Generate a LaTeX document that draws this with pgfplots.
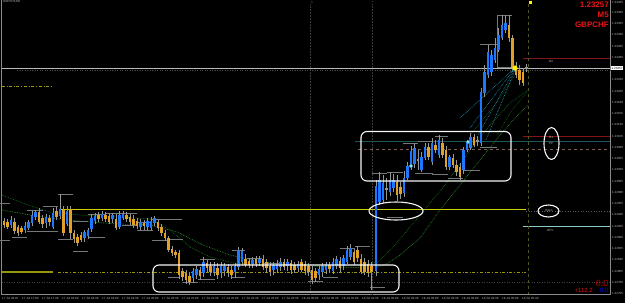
\documentclass[border=0pt]{standalone}
\usepackage{pgfplots}
\pgfplotsset{compat=1.18}
\usepackage{pgfplotstable}
\usepackage{fontspec}
\setmainfont{Liberation Sans}
\definecolor{bull}{RGB}{30,120,255}
\definecolor{bear}{RGB}{225,160,40}
\definecolor{wick}{RGB}{150,150,150}
\definecolor{fract}{RGB}{115,120,125}
\definecolor{maone}{RGB}{25,110,25}
\definecolor{matwo}{RGB}{45,145,45}
\definecolor{fan}{RGB}{40,170,205}
\definecolor{yel}{RGB}{205,205,0}
\definecolor{oli}{RGB}{150,150,10}
\definecolor{rline}{RGB}{135,20,20}
\definecolor{tealline}{RGB}{30,85,85}
\definecolor{ppc}{RGB}{125,95,85}
\definecolor{dpv}{RGB}{140,200,200}
\definecolor{lbl}{RGB}{185,185,185}
\definecolor{mtred}{RGB}{235,20,20}
\definecolor{frame}{RGB}{140,140,140}

% pixel coordinates, y measured downward
\pgfplotstableread{
x h l t b
11 216 228 220 225
25 222 233 226 230
28.5 220 230 222 228
32 211 226 215 223
35.5 210 220 212 217
46 214 228 217 223
53 208 229 213 227
60 194 219 209 216
67 206 226 211 224
84.5 230 242 232 238
88 228 239 230 236
91.5 214 232 218 229
95 213 224 216 221
102 211 221 214 218
112.5 213 223 215 219
119.5 211 229 215 227
123 211 220 214 218
140.5 219 230 222 227
147.5 218 230 221 227
151 217 230 221 228
154.5 216 226 218 223
193 268 283 271 278
196.5 266 279 269 275
203.5 257 277 262 273
214 262 276 266 272
221 262 278 266 273
224.5 263 276 266 271
235 263 278 266 272
238.5 247 270 250 267
242 248 265 251 262
252.5 257 268 260 264
259.5 256 266 259 263
273.5 262 275 265 270
277 260 273 264 269
280.5 258 271 262 267
287.5 259 271 262 266
298 261 272 264 268
319 266 280 269 275
322.5 263 277 266 272
326 262 274 264 270
333 258 274 262 271
336.5 256 269 259 266
343.5 255 270 258 266
347 246 264 250 262
350.5 244 260 248 257
376 180 276 186 271
379.5 172 205 180 202
383 175 203 183 200
390 172 196 180 192
393.5 174 192 180 188
404 171 197 178 193
407.5 162 180 166 178
411 146 170 151 167
414.5 143 168 148 164
421.5 152 172 157 170
425 143 160 147 158
432 138 165 143 162
439 135 158 140 155
449.5 155 170 157 167
463.5 147 174 150 170
467 140 152 142 150
470.5 133 150 137 148
481 88 146 92 143
484.5 65 97 72 93
488 45 78 52 75
491.5 50 76 55 72
495 38 63 48 60
498.5 28 52 35 50
502 15 40 25 38
505.5 15 33 23 30
}\upbars

\pgfplotstableread{
x h l t b
4 218 228 221 225
7.5 219 229 222 227
14.5 218 234 222 231
18 225 236 227 233
21.5 226 234 228 232
39 208 224 212 222
42.5 215 228 218 224
49.5 215 226 218 222
56.5 207 220 211 217
63.5 206 236 210 233
70.5 206 239 209 233
74 230 243 233 239
77.5 234 246 237 243
81 232 242 235 240
98.5 212 222 215 219
105.5 212 222 215 219
109 213 224 216 222
116 214 230 219 228
126.5 212 222 215 219
130 214 225 217 222
133.5 215 228 219 225
137 218 229 221 226
144 220 230 223 226
158 219 231 222 228
161.5 224 236 227 233
165 230 241 233 238
168.5 236 252 238 250
172 246 256 249 253
175.5 250 258 252 255
179 250 279 253 275
182.5 268 281 271 277
186 270 284 273 280
189.5 272 285 276 282
200 267 280 270 276
207 260 272 263 268
210.5 262 276 266 272
217.5 263 279 268 275
228 264 277 267 273
231.5 266 279 270 275
245.5 254 267 259 265
249 258 268 261 265
256 256 267 259 264
263 255 270 259 267
266.5 259 272 262 268
270 262 276 266 272
284 259 270 262 267
291 260 274 263 270
294.5 262 273 265 270
301.5 259 272 262 270
305 261 275 264 271
308.5 263 276 266 272
312 266 284 270 280
315.5 268 282 271 278
329.5 262 273 265 269
340 257 272 261 268
354 249 265 252 262
357.5 246 262 250 258
361 254 274 259 272
364.5 258 275 262 272
368 260 277 264 273
371.5 262 290 266 272
397 175 201 182 195
400.5 182 199 187 194
428.5 143 160 147 157
435.5 140 153 145 150
442.5 138 158 143 155
446 146 170 150 167
453 154 168 158 165
456.5 160 176 165 172
460 163 180 167 177
474 134 147 137 145
509 15 42 25 38
512.5 35 70 38 68
516 62 78 67 75
519.5 65 85 70 80
523 68 86 72 83
}\dnbars

\pgfplotstableread{
x h l t b
386.5 178 200 188 190
418 150 170 159 161
477.5 136 146 140 142
526.5 64 72 67 69
}\djbars

% horizontal level segments: a (start x), b (end x), y
\pgfplotstableread{
a b y
0 10 203
0 10 240
12 27 237
27 43 210
27 58 231
43 58 206
58 73 194
58 73 239
73 88 221
73 88 251
88 105 214
88 105 237
105 137 213
122 137 225
137 152 222
137 153 230
152 182 219
152 167 240
168 180 277
170 183 239
183 198 282
200 215 259
198 215 279
232 245 250
232 245 277
247 262 258
262 280 263
308 323 281
323 338 277
340 355 248
355 370 246
370 385 287
372 387 173
387 403 172
387 403 217
403 418 143
418 433 141
435 448 136
415 433 173
432 448 174
448 463 178
463 480 170
480 497 147
480 497 44
497 512 15
497 512 67
}\levels

\begin{document}
\begin{tikzpicture}
\begin{axis}[scale only axis, width=625pt, height=303pt,
  xmin=0, xmax=625, ymin=0, ymax=303, y dir=reverse, hide axis]
\fill[black] (axis cs:0,0) rectangle (axis cs:625,303);

% frame
\addplot[frame, line width=0.7pt] coordinates {(1.5,0) (1.5,294.5) (610,294.5) (610,0)};

% background levels
\addplot[lbl, line width=0.8pt] coordinates {(1.5,68) (610,68)};
\addplot[gray!60!black, dotted, line width=0.5pt] coordinates {(17,70.5) (610,70.5)};
\addplot[oli, dash dot, line width=0.8pt] coordinates {(1.5,86) (53,86)};
\addplot[yel, line width=1pt] coordinates {(60,209) (526,209)};
\addplot[oli, line width=1.6pt] coordinates {(1.5,272) (53,272)};
\addplot[oli, dash dot, line width=0.8pt] coordinates {(58,272) (526,272)};
\addplot[gray!50!black, dotted, line width=0.5pt] coordinates {(1.5,282) (610,282)};
\addplot[rline, line width=0.8pt] coordinates {(523,58) (610,58)};
\addplot[rline, line width=0.8pt] coordinates {(523,136) (610,136)};
\addplot[tealline, line width=0.7pt] coordinates {(355,141) (610,141)};
\addplot[ppc, dashed, line width=0.8pt] coordinates {(358,149) (610,149)};
\addplot[gray!70!black, dotted, line width=0.6pt] coordinates {(526,211) (610,211)};
\addplot[dpv, line width=0.8pt] coordinates {(523,226.5) (610,226.5)};

% vertical separators
\addplot[gray!45!black, densely dotted, line width=0.5pt] coordinates {(310,4) (310,294)};
\addplot[gray!45!black, densely dotted, line width=0.5pt] coordinates {(372,4) (372,294)};
\addplot[oli!60!gray!60!black, dashed, line width=0.5pt] coordinates {(528,4) (528,294)};

% moving averages
\addplot[maone, densely dotted, line width=0.7pt] coordinates {(2,195) (25,204) (50,212) (80,215) (120,217) (150,219) (170,230) (190,247) (210,257) (233,263) (260,265) (300,265) (340,265) (365,265) (378,262) (395,245) (420,215) (445,185) (470,150) (490,125) (510,103) (528,90)};
\addplot[matwo, densely dotted, line width=0.7pt] coordinates {(2,210) (30,215) (60,219) (90,222) (120,224) (150,225) (177,232) (203,245) (230,255) (263,262) (300,266) (340,267) (370,268) (385,265) (400,255) (420,238) (440,210) (460,185) (480,160) (500,135) (515,118) (528,105)};
\addplot[maone, densely dotted, line width=0.6pt] coordinates {(470,135) (495,105) (516,74)};
\addplot[maone, densely dotted, line width=0.6pt] coordinates {(497,135) (512,110) (527,92)};
\addplot[fan, densely dotted, line width=0.6pt] coordinates {(460,118) (515,68)};
\addplot[fan, densely dotted, line width=0.6pt] coordinates {(470,128) (515,68)};
\addplot[fan, densely dotted, line width=0.6pt] coordinates {(478,135) (515,69)};
\addplot[fan, densely dotted, line width=0.6pt] coordinates {(486,140) (515,70)};

% level steps
\addplot[draw=none, mark=none, error bars/.cd, x dir=plus, x explicit, error mark=none,
  error bar style={draw=fract, line width=0.6pt}]
  table[x=a, y=y, x error plus expr={\thisrow{b}-\thisrow{a}}] {\levels};
\addplot[fract, line width=0.6pt] coordinates {(497,15) (497,67)};

% wicks
\addplot[draw=none, mark=none, error bars/.cd, y dir=plus, y explicit, error mark=none,
  error bar style={draw=wick, line width=0.6pt}]
  table[x=x, y=h, y error plus expr={\thisrow{l}-\thisrow{h}}] {\upbars};
\addplot[draw=none, mark=none, error bars/.cd, y dir=plus, y explicit, error mark=none,
  error bar style={draw=wick, line width=0.6pt}]
  table[x=x, y=h, y error plus expr={\thisrow{l}-\thisrow{h}}] {\dnbars};
\addplot[draw=none, mark=none, error bars/.cd, y dir=plus, y explicit, error mark=none,
  error bar style={draw=wick, line width=0.6pt}]
  table[x=x, y=h, y error plus expr={\thisrow{l}-\thisrow{h}}] {\djbars};
% bodies
\addplot[draw=none, mark=none, error bars/.cd, y dir=plus, y explicit, error mark=none,
  error bar style={draw=bull, line width=2.4pt}]
  table[x=x, y=t, y error plus expr={\thisrow{b}-\thisrow{t}}] {\upbars};
\addplot[draw=none, mark=none, error bars/.cd, y dir=plus, y explicit, error mark=none,
  error bar style={draw=bear, line width=2.4pt}]
  table[x=x, y=t, y error plus expr={\thisrow{b}-\thisrow{t}}] {\dnbars};
\addplot[draw=none, mark=none, error bars/.cd, y dir=plus, y explicit, error mark=none,
  error bar style={draw=wick, line width=2.4pt}]
  table[x=x, y=t, y error plus expr={\thisrow{b}-\thisrow{t}}] {\djbars};

% markers
\addplot[only marks, mark=*, mark size=1.6pt, mark options={fill=white, draw=fan, line width=0.7pt}] coordinates {(411,166) (468,142)};
\addplot[only marks, mark=*, mark size=2.3pt, color=yellow] coordinates {(515,68)};
\addplot[only marks, mark=square*, mark size=1pt, color=yellow] coordinates {(530,2.5)};

% annotations
\draw[white!92!gray, line width=1.1pt, rounded corners=6pt] (axis cs:153,265) rectangle (axis cs:399,292);
\draw[white!92!gray, line width=1.1pt, rounded corners=6pt] (axis cs:361,131.5) rectangle (axis cs:511,181);
\draw[white!92!gray, line width=1.1pt] (axis cs:396,211) ellipse [x radius=27pt, y radius=9pt];
\draw[white!92!gray, line width=1.1pt] (axis cs:551.5,143.5) ellipse [x radius=7.5pt, y radius=16pt];
\draw[white!92!gray, line width=1.1pt] (axis cs:548.5,211) ellipse [x radius=10.5pt, y radius=6pt];

% level labels
\node[lbl, anchor=west, inner sep=0pt, font=\fontsize{3}{3.5}\selectfont] at (axis cs:549,61.5) {R2};
\node[lbl, anchor=west, inner sep=0pt, font=\fontsize{3}{3.5}\selectfont] at (axis cs:549,137.5) {R1};
\node[lbl, anchor=west, inner sep=0pt, font=\fontsize{3}{3.5}\selectfont] at (axis cs:549,143) {PP};
\node[lbl, anchor=west, inner sep=0pt, font=\fontsize{3}{3.5}\selectfont] at (axis cs:545,211) {Open};
\node[lbl, anchor=west, inner sep=0pt, font=\fontsize{3}{3.5}\selectfont] at (axis cs:547,230) {DPV};
\node[lbl, anchor=west, inner sep=0pt, font=\fontsize{3}{3.5}\selectfont] at (axis cs:3,1.8) {GBPCHF,M5};
\node[lbl, inner sep=0pt, font=\fontsize{3}{3.5}\selectfont] at (axis cs:312,2.5) {>};
\node[lbl, inner sep=0pt, font=\fontsize{3}{3.5}\selectfont] at (axis cs:373,2.5) {*};

% red info text
\node[mtred, anchor=base east, inner sep=0pt, font=\fontsize{8}{9}\selectfont\bfseries] at (axis cs:609,7.5) {1.23257};
\node[mtred, anchor=base east, inner sep=0pt, font=\fontsize{8}{9}\selectfont\bfseries] at (axis cs:609,17.7) {M5};
\node[mtred, anchor=base east, inner sep=0pt, font=\fontsize{8}{9}\selectfont\bfseries] at (axis cs:609,27.7) {GBPCHF};
\node[red!70!black, anchor=base east, inner sep=0pt, font=\fontsize{9}{9}\selectfont] at (axis cs:608.5,286) {0.0};
\node[mtred, anchor=base east, inner sep=0pt, font=\fontsize{6}{6}\selectfont] at (axis cs:593,292.5) {+112.2};
\node[blue, anchor=base east, inner sep=0pt, font=\fontsize{6}{6}\selectfont] at (axis cs:608.5,292.5) {0.0};

% price scale
\node[lbl, anchor=west, inner sep=0pt, font=\fontsize{3}{3.5}\selectfont] at (axis cs:612,2.5) {1.23405};
\node[lbl, anchor=west, inner sep=0pt, font=\fontsize{3}{3.5}\selectfont] at (axis cs:612,12.25) {1.23380};
\node[lbl, anchor=west, inner sep=0pt, font=\fontsize{3}{3.5}\selectfont] at (axis cs:612,23.5) {1.23355};
\node[lbl, anchor=west, inner sep=0pt, font=\fontsize{3}{3.5}\selectfont] at (axis cs:612,34.75) {1.23330};
\node[lbl, anchor=west, inner sep=0pt, font=\fontsize{3}{3.5}\selectfont] at (axis cs:612,46) {1.23305};
\node[lbl, anchor=west, inner sep=0pt, font=\fontsize{3}{3.5}\selectfont] at (axis cs:612,57.25) {1.23280};
\node[fill=white, text=black, anchor=west, inner sep=0.5pt, font=\fontsize{3}{3.5}\selectfont] at (axis cs:611,68) {1.23257};
\node[lbl, anchor=west, inner sep=0pt, font=\fontsize{3}{3.5}\selectfont] at (axis cs:612,79.75) {1.23230};
\node[lbl, anchor=west, inner sep=0pt, font=\fontsize{3}{3.5}\selectfont] at (axis cs:612,91) {1.23205};
\node[lbl, anchor=west, inner sep=0pt, font=\fontsize{3}{3.5}\selectfont] at (axis cs:612,102.25) {1.23180};
\node[lbl, anchor=west, inner sep=0pt, font=\fontsize{3}{3.5}\selectfont] at (axis cs:612,113.5) {1.23155};
\node[lbl, anchor=west, inner sep=0pt, font=\fontsize{3}{3.5}\selectfont] at (axis cs:612,124.75) {1.23130};
\node[lbl, anchor=west, inner sep=0pt, font=\fontsize{3}{3.5}\selectfont] at (axis cs:612,136) {1.23105};
\node[lbl, anchor=west, inner sep=0pt, font=\fontsize{3}{3.5}\selectfont] at (axis cs:612,147.25) {1.23080};
\node[lbl, anchor=west, inner sep=0pt, font=\fontsize{3}{3.5}\selectfont] at (axis cs:612,158.5) {1.23055};
\node[lbl, anchor=west, inner sep=0pt, font=\fontsize{3}{3.5}\selectfont] at (axis cs:612,169.75) {1.23030};
\node[lbl, anchor=west, inner sep=0pt, font=\fontsize{3}{3.5}\selectfont] at (axis cs:612,181) {1.23005};
\node[lbl, anchor=west, inner sep=0pt, font=\fontsize{3}{3.5}\selectfont] at (axis cs:612,192.25) {1.22980};
\node[lbl, anchor=west, inner sep=0pt, font=\fontsize{3}{3.5}\selectfont] at (axis cs:612,203.5) {1.22955};
\node[lbl, anchor=west, inner sep=0pt, font=\fontsize{3}{3.5}\selectfont] at (axis cs:612,214.75) {1.22930};
\node[lbl, anchor=west, inner sep=0pt, font=\fontsize{3}{3.5}\selectfont] at (axis cs:612,226) {1.22905};
\node[lbl, anchor=west, inner sep=0pt, font=\fontsize{3}{3.5}\selectfont] at (axis cs:612,237.25) {1.22880};
\node[lbl, anchor=west, inner sep=0pt, font=\fontsize{3}{3.5}\selectfont] at (axis cs:612,248.5) {1.22855};
\node[lbl, anchor=west, inner sep=0pt, font=\fontsize{3}{3.5}\selectfont] at (axis cs:612,259.75) {1.22830};
\node[lbl, anchor=west, inner sep=0pt, font=\fontsize{3}{3.5}\selectfont] at (axis cs:612,271) {1.22805};
\node[lbl, anchor=west, inner sep=0pt, font=\fontsize{3}{3.5}\selectfont] at (axis cs:612,282.25) {1.22780};
\node[lbl, anchor=west, inner sep=0pt, font=\fontsize{3}{3.5}\selectfont] at (axis cs:612,293) {1.22755};

% time scale
\node[lbl, anchor=west, inner sep=0pt, font=\fontsize{3}{3.5}\selectfont] at (axis cs:2,298.5) {17 Jul 2019};
\node[lbl, anchor=west, inner sep=0pt, font=\fontsize{3}{3.5}\selectfont] at (axis cs:22,298.5) {17 Jul 17:00};
\node[lbl, anchor=west, inner sep=0pt, font=\fontsize{3}{3.5}\selectfont] at (axis cs:42,298.5) {17 Jul 17:30};
\node[lbl, anchor=west, inner sep=0pt, font=\fontsize{3}{3.5}\selectfont] at (axis cs:62,298.5) {17 Jul 18:00};
\node[lbl, anchor=west, inner sep=0pt, font=\fontsize{3}{3.5}\selectfont] at (axis cs:82,298.5) {17 Jul 18:30};
\node[lbl, anchor=west, inner sep=0pt, font=\fontsize{3}{3.5}\selectfont] at (axis cs:102,298.5) {17 Jul 19:00};
\node[lbl, anchor=west, inner sep=0pt, font=\fontsize{3}{3.5}\selectfont] at (axis cs:122,298.5) {17 Jul 19:30};
\node[lbl, anchor=west, inner sep=0pt, font=\fontsize{3}{3.5}\selectfont] at (axis cs:142,298.5) {17 Jul 20:00};
\node[lbl, anchor=west, inner sep=0pt, font=\fontsize{3}{3.5}\selectfont] at (axis cs:162,298.5) {17 Jul 20:30};
\node[lbl, anchor=west, inner sep=0pt, font=\fontsize{3}{3.5}\selectfont] at (axis cs:182,298.5) {17 Jul 21:00};
\node[lbl, anchor=west, inner sep=0pt, font=\fontsize{3}{3.5}\selectfont] at (axis cs:202,298.5) {17 Jul 21:30};
\node[lbl, anchor=west, inner sep=0pt, font=\fontsize{3}{3.5}\selectfont] at (axis cs:222,298.5) {17 Jul 22:00};
\node[lbl, anchor=west, inner sep=0pt, font=\fontsize{3}{3.5}\selectfont] at (axis cs:242,298.5) {17 Jul 22:30};
\node[lbl, anchor=west, inner sep=0pt, font=\fontsize{3}{3.5}\selectfont] at (axis cs:262,298.5) {17 Jul 23:00};
\node[lbl, anchor=west, inner sep=0pt, font=\fontsize{3}{3.5}\selectfont] at (axis cs:282,298.5) {17 Jul 23:30};
\node[lbl, anchor=west, inner sep=0pt, font=\fontsize{3}{3.5}\selectfont] at (axis cs:302,298.5) {18 Jul 00:00};
\node[lbl, anchor=west, inner sep=0pt, font=\fontsize{3}{3.5}\selectfont] at (axis cs:322,298.5) {18 Jul 00:30};
\node[lbl, anchor=west, inner sep=0pt, font=\fontsize{3}{3.5}\selectfont] at (axis cs:342,298.5) {18 Jul 01:00};
\node[lbl, anchor=west, inner sep=0pt, font=\fontsize{3}{3.5}\selectfont] at (axis cs:362,298.5) {18 Jul 01:30};
\node[lbl, anchor=west, inner sep=0pt, font=\fontsize{3}{3.5}\selectfont] at (axis cs:382,298.5) {18 Jul 02:00};
\node[lbl, anchor=west, inner sep=0pt, font=\fontsize{3}{3.5}\selectfont] at (axis cs:402,298.5) {18 Jul 02:30};
\node[lbl, anchor=west, inner sep=0pt, font=\fontsize{3}{3.5}\selectfont] at (axis cs:422,298.5) {18 Jul 03:00};
\node[lbl, anchor=west, inner sep=0pt, font=\fontsize{3}{3.5}\selectfont] at (axis cs:442,298.5) {18 Jul 03:30};
\node[lbl, anchor=west, inner sep=0pt, font=\fontsize{3}{3.5}\selectfont] at (axis cs:462,298.5) {18 Jul 04:00};
\node[lbl, anchor=west, inner sep=0pt, font=\fontsize{3}{3.5}\selectfont] at (axis cs:482,298.5) {18 Jul 04:30};
\node[lbl, anchor=west, inner sep=0pt, font=\fontsize{3}{3.5}\selectfont] at (axis cs:502,298.5) {18 Jul 05:00};
\node[lbl, anchor=west, inner sep=0pt, font=\fontsize{3}{3.5}\selectfont] at (axis cs:522,298.5) {18 Jul 05:30};
\end{axis}
\end{tikzpicture}
\end{document}
